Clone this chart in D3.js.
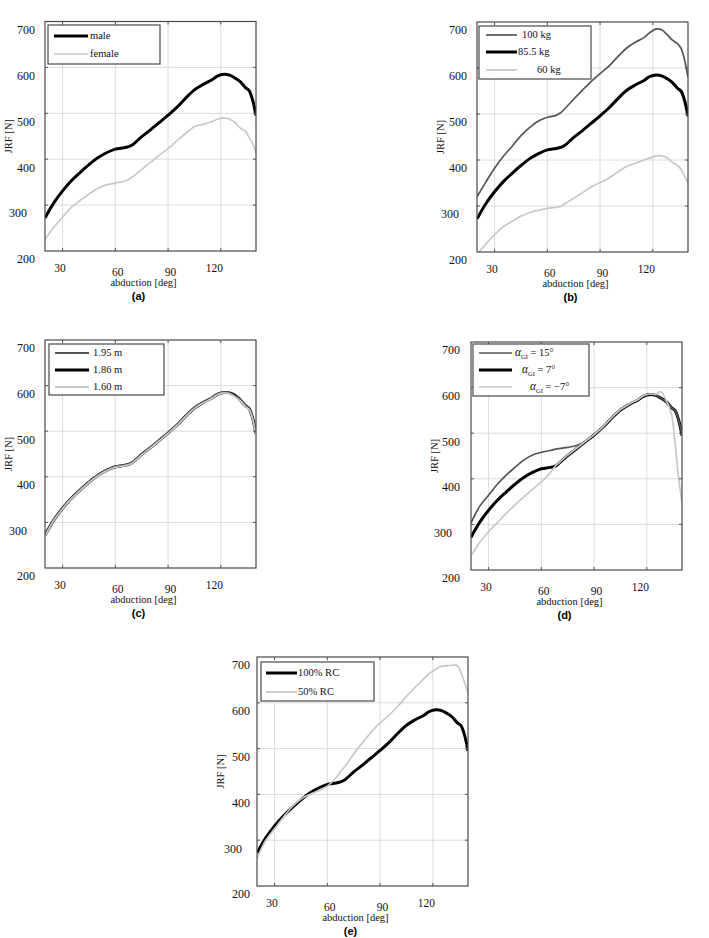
<!DOCTYPE html>
<html><head><meta charset="utf-8">
<script src="https://cdn.jsdelivr.net/npm/d3@7"></script>
<style>
html,body{margin:0;padding:0;background:#fff;}
svg{display:block;}
</style></head>
<body>
<svg id="chart" width="709" height="938"></svg>
<script>
// ---------- DATA ----------
const abduction = [20,25,30,35,40,45,50,55,60,65,68,70,75,80,85,90,95,100,105,110,115,118,122,125,128,131,134,136,138,140];
const yTickValues = [200,300,400,500,600,700];
const xTickValues = [30,60,90,120];

// (a) gender
const male   = [272,305,331,353,371,388,403,414,422,425,428,432,449,464,480,496,513,533,551,563,573,581,585,583,577,569,556,550,530,495];
const female = [226,251,274,295,310,324,336,344,348,352,357,362,378,393,409,423,440,456,471,476,482,487,490,487,480,468,461,448,435,413];
// (b) body mass
const kg100  = [320,352,382,408,430,453,471,485,493,497,504,512,532,552,571,588,604,624,643,656,666,676,685,683,673,661,653,643,618,580];
const kg85   = [272,305,331,353,371,388,403,414,422,425,428,432,449,464,480,496,513,533,551,563,573,581,585,583,577,569,556,550,530,495];
const kg60   = [195,217,238,255,267,278,286,291,295,297,300,305,317,329,342,351,361,374,386,393,400,404,409,409,405,395,388,380,366,349];
// (c) body height
const h195   = [273,306,332,354,372,389,404,415,423,426,429,433,450,465,481,497,514,534,552,564,574,582,586,584,578,570,557,551,531,496];
const h186   = [272,305,331,353,371,388,403,414,422,425,428,432,449,464,480,496,513,533,551,563,573,581,585,584,579,569,556,550,530,495];
const h160   = [270,304,330,352,370,387,402,413,421,424,427,431,448,463,479,495,512,532,550,562,572,580,584,582,575,567,554,548,528,492];
// (d) glenoid inclination
const aGI15  = [303,340,364,388,408,425,441,452,458,462,465,466,469,473,482,497,514,534,552,564,574,582,586,584,577,569,556,550,530,495];
const aGI7   = [272,305,331,353,371,388,403,414,422,425,428,434,451,466,481,496,513,533,551,563,573,581,585,583,577,569,556,550,530,495];
const aGIm7  = [231,261,284,304,324,343,360,377,393,413,428,435,452,467,482,497,514,534,552,564,574,582,586,585,591,572,542,480,405,347];
// (e) rotator cuff
const rc100  = [272,305,331,353,371,388,403,414,422,425,428,432,449,464,480,496,513,533,551,563,573,581,585,583,577,569,556,550,530,495];
const rc50   = [260,300,325,350,373,390,400,408,418,437,452,461,488,513,536,556,573,592,614,634,653,664,674,680,681,682,681,666,645,621];

// ---------- STYLE / LAYOUT ----------
const BLACK = "#000", DARK = "#555", LIGHT = "#c8c8c8";
const SERIF = "'Liberation Serif','Times New Roman',serif";
const SANS = "'Liberation Sans',Arial,sans-serif";

const panels = [
  {tag:"(a)", left:45, right:256, top:21.5, bottom:251, yGap:10,
   series:[{label:"male", v:male, c:BLACK, w:3},{label:"female", v:female, c:LIGHT, w:1.7}],
   legend:{dx:3, dy:3.5, w:112, h:39, rows:[14.5,32.5], l0:9, l1:43, tx:[45,45]}},
  {tag:"(b)", left:477, right:688, top:22, bottom:252, yGap:10,
   series:[{label:"100 kg", v:kg100, c:DARK, w:1.7},{label:"85.5 kg", v:kg85, c:BLACK, w:3},{label:"60 kg", v:kg60, c:LIGHT, w:1.7}],
   legend:{dx:2, dy:4, w:112, h:53, rows:[13,30,48], l0:9, l1:40, tx:[45,41,60]}},
  {tag:"(c)", left:45, right:256, top:340, bottom:568, yGap:10,
   series:[{label:"1.95 m", v:h195, c:DARK, w:1.8},{label:"1.86 m", v:h186, c:BLACK, w:3},{label:"1.60 m", v:h160, c:LIGHT, w:1.8}],
   order:[1,0,2],
   legend:{dx:4, dy:4, w:115, h:51, rows:[13,30,47], l0:10, l1:44, tx:[48,48,48]}},
  {tag:"(d)", left:471, right:682, top:342, bottom:570, yGap:11,
   series:[{label:"15°", v:aGI15, c:DARK, w:1.7, alpha:true},{label:"7°", v:aGI7, c:BLACK, w:3, alpha:true},{label:"\u22127°", v:aGIm7, c:LIGHT, w:1.7, alpha:true}],
   order:[1,0,2],
   legend:{dx:2, dy:2, w:116, h:52, rows:[11,28,45], l0:8, l1:41, tx:[44,51,59]}},
  {tag:"(e)", left:257, right:468, top:657, bottom:886, yGap:7,
   series:[{label:"100% RC", v:rc100, c:BLACK, w:3},{label:"50% RC", v:rc50, c:LIGHT, w:1.7}],
   legend:{dx:4, dy:5, w:113, h:39, rows:[16,35], l0:9, l1:40, tx:[41,41]}}
];

const xLabelDy = {30:17, 60:21, 90:21, 120:17};
const xLabelDx = {30:-3, 60:2, 90:2, 120:-7};
const yLabelDx = {200:0, 300:-8, 400:0, 500:0, 600:0, 700:0};

const svg = d3.select("#chart");
const defs = svg.append("defs");

panels.forEach((p, pi) => {
  const x = d3.scaleLinear().domain([20,140]).range([p.left, p.right]);
  const y = d3.scaleLinear().domain([200,700]).range([p.bottom, p.top]);
  const g = svg.append("g");
  const W = p.right - p.left, H = p.bottom - p.top;

  // grid
  g.append("g").selectAll("line.gx").data(xTickValues).join("line")
    .attr("x1", d => x(d)).attr("x2", d => x(d)).attr("y1", p.top).attr("y2", p.bottom)
    .attr("stroke", "#dcdcdc").attr("stroke-width", 1);
  g.append("g").selectAll("line.gy").data(yTickValues.slice(1, -1)).join("line")
    .attr("x1", p.left).attr("x2", p.right).attr("y1", d => y(d)).attr("y2", d => y(d))
    .attr("stroke", "#dcdcdc").attr("stroke-width", 1);

  // clip
  const cid = "clip" + pi;
  defs.append("clipPath").attr("id", cid).append("rect")
    .attr("x", p.left).attr("y", p.top).attr("width", W).attr("height", H);

  const line = d3.line().x((d, i) => x(abduction[i])).y(d => y(d)).curve(d3.curveCatmullRom.alpha(0.5));
  const order = p.order || p.series.map((s, i) => i);
  const lg = g.append("g").attr("clip-path", `url(#${cid})`);
  order.forEach(i => {
    const s = p.series[i];
    lg.append("path").attr("d", line(s.v)).attr("fill", "none")
      .attr("stroke", s.c).attr("stroke-width", s.w).attr("stroke-linejoin", "round");
  });

  // inward ticks
  const tk = 3, tc = "#555";
  const tg = g.append("g").attr("stroke", tc).attr("stroke-width", 1);
  xTickValues.forEach(v => {
    tg.append("line").attr("x1", x(v)).attr("x2", x(v)).attr("y1", p.bottom).attr("y2", p.bottom - tk);
    tg.append("line").attr("x1", x(v)).attr("x2", x(v)).attr("y1", p.top).attr("y2", p.top + tk);
  });
  yTickValues.slice(1, -1).forEach(v => {
    tg.append("line").attr("x1", p.left).attr("x2", p.left + tk).attr("y1", y(v)).attr("y2", y(v));
    tg.append("line").attr("x1", p.right).attr("x2", p.right - tk).attr("y1", y(v)).attr("y2", y(v));
  });

  // box
  g.append("rect").attr("x", p.left).attr("y", p.top).attr("width", W).attr("height", H)
    .attr("fill", "none").attr("stroke", "#4a4a4a").attr("stroke-width", 1.2);

  // y axis labels
  const ya = g.append("g").attr("transform", `translate(${p.left},0)`)
    .call(d3.axisLeft(y).tickValues(yTickValues).tickSize(0).tickPadding(p.yGap));
  ya.select(".domain").remove();
  ya.selectAll(".tick text").attr("dy", "0.32em").attr("y", 8)
    .attr("x", d => -p.yGap + yLabelDx[d])
    .attr("font-family", SERIF).attr("font-size", 12).attr("fill", "#111");

  // x axis labels
  const xa = g.append("g").attr("transform", `translate(0,${p.bottom})`)
    .call(d3.axisBottom(x).tickValues(xTickValues).tickSize(0));
  xa.select(".domain").remove();
  xa.selectAll(".tick text").attr("dy", "0.32em")
    .attr("y", d => xLabelDy[d]).attr("x", d => xLabelDx[d])
    .attr("font-family", SERIF).attr("font-size", 11.5).attr("fill", "#111");

  const cx = (p.left + p.right) / 2;
  g.append("text").attr("x", cx - 7).attr("y", p.bottom + 32).attr("dy", "0.32em")
    .attr("text-anchor", "middle").attr("font-family", SERIF).attr("font-size", 10.5).attr("fill", "#111")
    .text("abduction [deg]");
  g.append("text").attr("x", cx - 12).attr("y", p.bottom + 45).attr("dy", "0.35em")
    .attr("text-anchor", "middle").attr("font-family", SANS).attr("font-weight", "bold")
    .attr("font-size", 11).attr("fill", "#000").text(p.tag);
  g.append("text").attr("transform", `translate(${p.left - 37},${(p.top + p.bottom) / 2}) rotate(-90)`)
    .attr("dy", "0.35em").attr("text-anchor", "middle").attr("font-family", SERIF)
    .attr("font-size", 10.5).attr("fill", "#111").text("JRF [N]");

  // legend
  const L = p.legend;
  const lx = p.left + L.dx, ly = p.top + L.dy;
  const leg = g.append("g");
  leg.append("rect").attr("x", lx).attr("y", ly).attr("width", L.w).attr("height", L.h)
    .attr("fill", "#fff").attr("stroke", "#4a4a4a").attr("stroke-width", 1.2);
  p.series.forEach((s, i) => {
    const ry = p.top + L.rows[i];
    leg.append("line").attr("x1", p.left + L.l0).attr("x2", p.left + L.l1)
      .attr("y1", ry).attr("y2", ry).attr("stroke", s.c).attr("stroke-width", s.w);
    const t = leg.append("text").attr("x", p.left + L.tx[i]).attr("y", ry).attr("dy", "0.32em")
      .attr("font-family", SERIF).attr("font-size", 10.5).attr("fill", "#111");
    if (s.alpha) {
      t.append("tspan").attr("font-style", "italic").attr("font-size", 11.5).text("\u03B1");
      t.append("tspan").attr("font-size", 6.5).attr("dy", "0.35em").text("GI");
      t.append("tspan").attr("dy", "-0.22em").text(" = " + s.label);
    } else {
      t.text(s.label);
    }
  });
});
</script>
</body></html>
